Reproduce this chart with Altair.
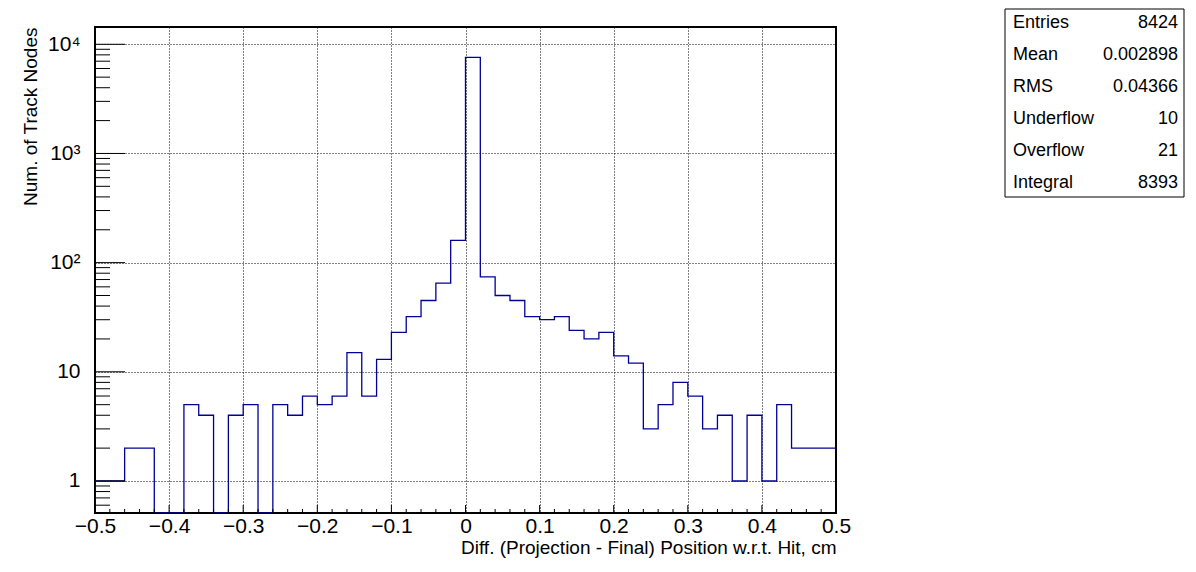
import altair as alt
import pandas as pd
import numpy as np

# ---- data ----
bin_low = -0.5
bin_width = 0.02
counts = [1, 1, 2, 2, 0, 0, 5, 4, 0, 4, 5, 0, 5, 4, 6, 5, 6, 15, 6, 13,
          23, 32, 45, 65, 160, 7582, 74, 50, 45, 32, 30, 32, 24, 20, 23, 14, 12, 3, 5, 8,
          6, 3, 4, 1, 4, 1, 5, 2, 2, 2]
x_tick_values = [-0.5, -0.4, -0.3, -0.2, -0.1, 0.0, 0.1, 0.2, 0.3, 0.4, 0.5]
y_tick_values = [1, 10, 100, 1000, 10000]
stat_names = ["Entries", "Mean", "RMS", "Underflow", "Overflow", "Integral"]
stat_values = ["8424", "0.002898", "0.04366", "10", "21", "8393"]
x_title = "Diff. (Projection - Final) Position w.r.t. Hit, cm"
y_title = "Num. of Track Nodes"

W, H = 741, 486
YMIN, YMAX = 0.509, 14400
FONT = "Liberation Sans"
LINE = "#000099"
LABEL_SIZE = 21

nb = len(counts)
edges = [round(bin_low + i * bin_width, 4) for i in range(nb + 1)]
step = pd.DataFrame({
    "x": [edges[0]] + edges[:nb] + [edges[nb]],
    "n": [0] + counts + [counts[-1]],
})
step["order"] = range(len(step))

xs = alt.Scale(domain=[-0.5, 0.5], nice=False, zero=False)
ys = alt.Scale(type="log", domain=[YMIN, YMAX], nice=False)

hist = alt.Chart(step).transform_calculate(
    yv=f"max(datum.n, {YMIN})"
).mark_line(interpolate="step-after", color=LINE, strokeWidth=1.3, clip=True).encode(
    x=alt.X("x:Q", scale=xs, title=x_title, axis=alt.Axis(
        values=x_tick_values, title=x_title, grid=True, gridDash=[1, 2], gridColor="black",
        gridOpacity=1, gridWidth=1, domain=False, ticks=False, labelFontSize=LABEL_SIZE,
        labelPadding=2, labelFont=FONT, labelColor="black", labelFlush=False,
        labelOverlap=False,
        labelExpr="datum.value == 0 ? '0' : replace(format(datum.value, '.1f'), '-', '\u2212')",
        titleFont=FONT, titleFontSize=19, titleFontWeight="normal", titleColor="black",
        titleX=W, titleY=34, titleAlign="right", titleBaseline="middle")),
    y=alt.Y("yv:Q", scale=ys, title=y_title, axis=alt.Axis(
        values=y_tick_values, title=y_title, grid=True, gridDash=[1, 2], gridColor="black",
        gridOpacity=1, gridWidth=1, domain=False, ticks=False, labelFontSize=LABEL_SIZE,
        labelPadding=15, labelFont=FONT, labelColor="black", labelFlush=False,
        labelOverlap=False,
        labelExpr="datum.value == 10000 ? '10\u2074' : datum.value == 1000 ? '10\u00b3' : datum.value == 100 ? '10\u00b2' : datum.value == 10 ? '10' : '1'",
        titleFont=FONT, titleFontSize=19, titleFontWeight="normal", titleColor="black",
        titleX=-65, titleY=0, titleAlign="right", titleBaseline="middle", titleAngle=270)),
    order="order:Q",
)

# inner ticks (ROOT style)
xminor = [round(bin_low + i * bin_width, 2) for i in range(nb + 1)]
xt = pd.DataFrame({"x": xminor})
xt["len"] = [8 if abs(round(v * 10) - v * 10) < 1e-6 else 4 for v in xminor]
xticks_major = alt.Chart(xt[xt["len"] == 8]).mark_rule(color="black", strokeWidth=1).encode(
    x=alt.X("x:Q", scale=xs, title=x_title), y=alt.value(H), y2=alt.value(H - 8))
xticks_minor = alt.Chart(xt[xt["len"] == 4]).mark_rule(color="black", strokeWidth=1).encode(
    x=alt.X("x:Q", scale=xs, title=x_title), y=alt.value(H), y2=alt.value(H - 4))

yminor_vals = [m * d for d in [0.1, 1, 10, 100, 1000] for m in range(2, 10)
               if YMIN <= m * d <= YMAX]
yt_major = alt.Chart(pd.DataFrame({"yv": y_tick_values})).mark_rule(color="black", strokeWidth=1).encode(
    y=alt.Y("yv:Q", scale=ys, title=y_title), x=alt.value(0), x2=alt.value(30))
yt_minor = alt.Chart(pd.DataFrame({"yv": yminor_vals})).mark_rule(color="black", strokeWidth=1).encode(
    y=alt.Y("yv:Q", scale=ys, title=y_title), x=alt.value(0), x2=alt.value(15))

# statistics box
dummy = pd.DataFrame({"a": [0]})
box = alt.Chart(dummy).mark_rect(fill="white", stroke="black", strokeWidth=1).encode(
    x=alt.value(910), x2=alt.value(1089), y=alt.value(-18), y2=alt.value(170))
layers = [hist, xticks_major, xticks_minor, yt_major, yt_minor, box]
row_y = [-4, 28, 60, 92, 124, 156]
for name, val, ry in zip(stat_names, stat_values, row_y):
    layers.append(alt.Chart(pd.DataFrame({"s": [name]})).mark_text(
        align="left", baseline="middle", font=FONT, fontSize=18, color="black").encode(
        x=alt.value(918), y=alt.value(ry), text="s:N"))
    layers.append(alt.Chart(pd.DataFrame({"s": [val]})).mark_text(
        align="right", baseline="middle", font=FONT, fontSize=18, color="black").encode(
        x=alt.value(1083), y=alt.value(ry), text="s:N"))

chart = alt.layer(*layers).properties(
    width=W, height=H,
    autosize=alt.AutoSizeParams(type="none"),
    padding={"left": 87, "top": 19, "right": 352, "bottom": 51},
    background="white",
).configure_view(stroke="black", strokeWidth=2)

chart.save("out.html", embed_options={"renderer": "svg", "actions": False})
